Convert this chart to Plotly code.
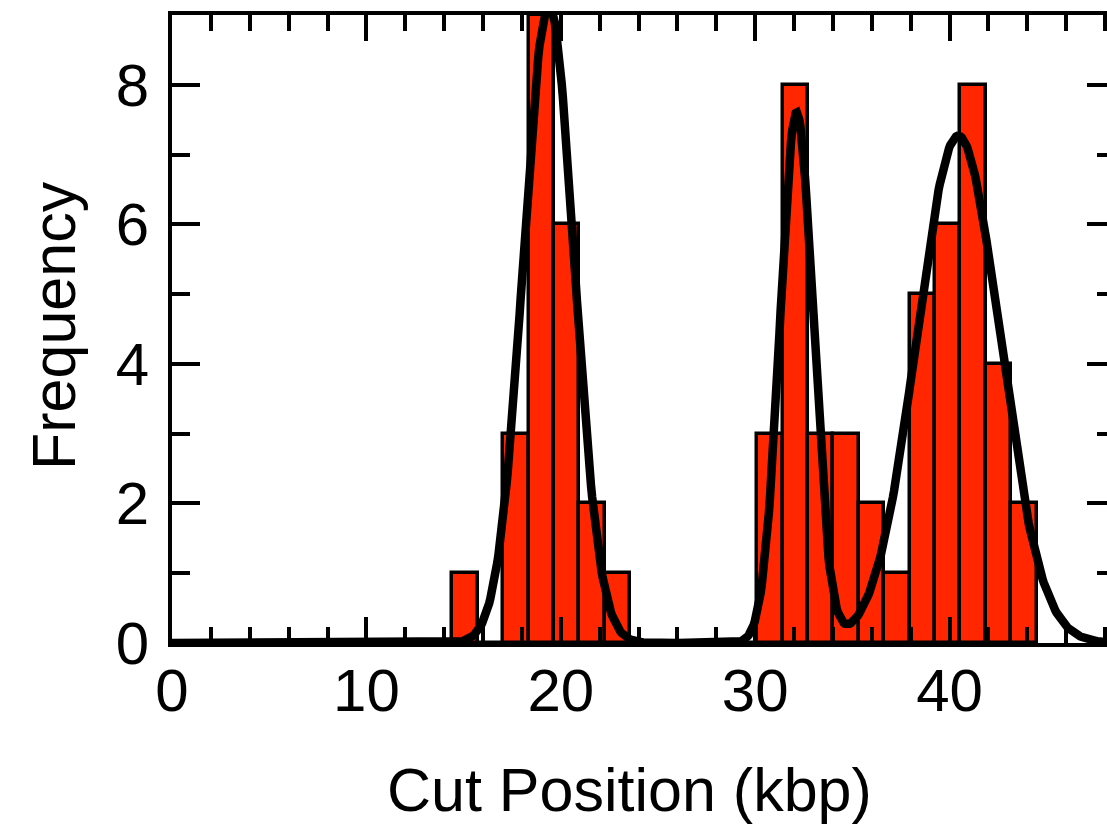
import numpy as np
import plotly.graph_objects as go

# Histogram of cut positions (kbp)
bin_start = 14.42
bin_width = 1.307
counts = [1, 0, 3, 9, 6, 2, 1, 0, 0, 0, 0, 0,
          3, 8, 3, 3, 2, 1, 5, 6, 8, 4, 2]

# Fitted Gaussian components (amplitude, centre kbp, sigma kbp)
fit_amplitude = [9.15, 7.6, 7.27]
fit_center = [19.38, 32.13, 40.45]
fit_sigma = [1.30, 0.85, 2.13]

x_ticks = [0, 10, 20, 30, 40]
y_ticks = [0, 2, 4, 6, 8]
x_range = [0, 48.1]
y_range = [0, 9]

FONT = "Liberation Sans, Arial, Helvetica, sans-serif"

bin_centers = [bin_start + bin_width * (i + 0.5) for i in range(len(counts))]

xf = np.linspace(x_range[0], x_range[1], 800)
yf = np.zeros_like(xf)
for a, c, s in zip(fit_amplitude, fit_center, fit_sigma):
    yf += a * np.exp(-((xf - c) ** 2) / (2 * s ** 2))

fig = go.Figure()
fig.add_trace(go.Bar(
    x=bin_centers, y=counts, width=bin_width,
    marker=dict(color="#ff2600", line=dict(color="black", width=3.5)),
    showlegend=False,
))
fig.add_trace(go.Scatter(
    x=xf, y=yf, mode="lines",
    line=dict(color="black", width=8.5),
    showlegend=False,
))
# invisible trace to activate right-side tick axis
fig.add_trace(go.Scatter(x=[None], y=[None], yaxis="y2", showlegend=False, hoverinfo="skip"))

fig.update_layout(
    width=1107, height=827,
    margin=dict(l=172, r=0, t=15, b=184),
    plot_bgcolor="white", paper_bgcolor="white",
    bargap=0,
    font=dict(family=FONT, size=60, color="black"),
    xaxis=dict(
        range=x_range, tickvals=x_ticks, ticks="inside", ticklen=26, tickwidth=3.5,
        tickcolor="black", showline=True, linewidth=4, linecolor="black",
        mirror="ticks", showgrid=False, zeroline=False,
        minor=dict(dtick=2, ticks="inside", ticklen=16, tickwidth=3.5, tickcolor="black", showgrid=False),
        tickfont=dict(size=60, family=FONT),
        ticklabelstandoff=-8,
    ),
    yaxis=dict(
        range=y_range, tickvals=y_ticks, ticks="inside", ticklen=28, tickwidth=3.5,
        tickcolor="black", showline=True, linewidth=4, linecolor="black",
        showgrid=False, zeroline=False,
        minor=dict(dtick=1, ticks="inside", ticklen=18, tickwidth=3.5, tickcolor="black", showgrid=False),
        tickfont=dict(size=60, family=FONT),
        ticklabelstandoff=7,
    ),
    yaxis2=dict(
        range=y_range, overlaying="y", side="right", tickvals=y_ticks,
        ticks="inside", ticklen=20, tickwidth=3.5, tickcolor="black",
        showline=False, showgrid=False, zeroline=False, showticklabels=False,
        minor=dict(dtick=1, ticks="inside", ticklen=10, tickwidth=3.5, tickcolor="black", showgrid=False),
    ),
    annotations=[
        dict(text="Cut Position (kbp)", xref="paper", yref="paper",
             x=(629 - 172) / 935, y=(643 - 790) / 628, xanchor="center", yanchor="middle",
             showarrow=False, font=dict(size=61, family=FONT)),
        dict(text="Frequency", xref="paper", yref="paper", textangle=-90,
             x=(54 - 172) / 935, y=(643 - 326) / 628, xanchor="center", yanchor="middle",
             showarrow=False, font=dict(size=61, family=FONT)),
    ],
)

fig.write_html("out.html")
